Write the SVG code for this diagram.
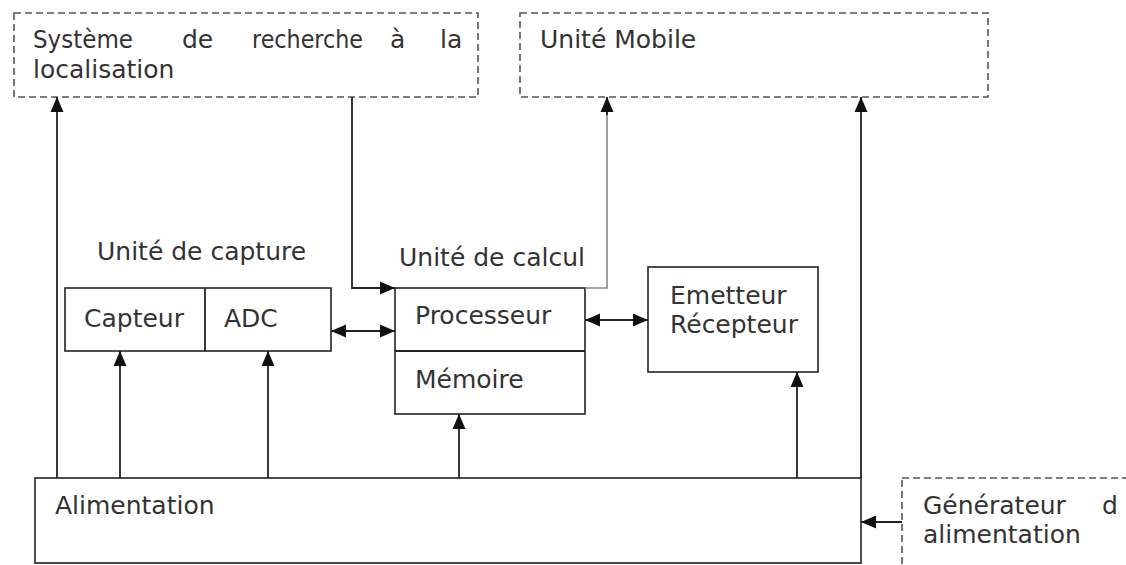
<svg xmlns="http://www.w3.org/2000/svg" width="1126" height="565" viewBox="0 0 1126 565">
  <style>
    text { font-family: "DejaVu Sans", Verdana, sans-serif; font-size: 25px; fill: #333; }
    .box { fill: #fff; stroke: #222; stroke-width: 1.6; }
    .dash { fill: #fff; stroke: #555; stroke-width: 1.6; stroke-dasharray: 7 4; }
    .wire { fill: none; stroke: #222; stroke-width: 1.8; }
    .soft { fill: none; stroke: #888; stroke-width: 1.6; }
  </style>
  <defs>
    <marker id="head" markerUnits="userSpaceOnUse" markerWidth="16" markerHeight="14" refX="15" refY="7" orient="auto-start-reverse">
      <path d="M0,0.5 L15,7 L0,13.5 z" fill="#111"/>
    </marker>
  </defs>

  <rect width="1126" height="565" fill="#fff"/>

  <!-- external systems (dashed) -->
  <g id="systeme-recherche">
    <rect class="dash" x="14" y="13" width="464" height="84"/>
    <text x="33" y="48" textLength="100" lengthAdjust="spacingAndGlyphs">Système</text>
    <text x="182" y="48">de</text>
    <text x="252" y="48" textLength="111" lengthAdjust="spacingAndGlyphs">recherche</text>
    <text x="390" y="48">à</text>
    <text x="440" y="48">la</text>
    <text x="33" y="78">localisation</text>
  </g>

  <g id="unite-mobile">
    <rect class="dash" x="520" y="13" width="468" height="84"/>
    <text x="540" y="48">Unité Mobile</text>
  </g>

  <g id="generateur">
    <rect class="dash" x="902" y="478" width="240" height="100"/>
    <text x="923" y="514">Générateur</text>
    <text x="1102" y="514">d</text>
    <text x="923" y="543">alimentation</text>
  </g>

  <!-- capture unit -->
  <g id="unite-capture">
    <text x="97" y="260">Unité de capture</text>
    <rect class="box" x="65" y="288" width="266" height="63"/>
    <line class="wire" x1="205" y1="288" x2="205" y2="351"/>
    <text x="84" y="327">Capteur</text>
    <text x="224" y="327">ADC</text>
  </g>

  <!-- compute unit -->
  <g id="unite-calcul">
    <text x="399" y="266">Unité de calcul</text>
    <rect class="box" x="395" y="288" width="190" height="126"/>
    <line class="wire" x1="395" y1="351" x2="585" y2="351"/>
    <text x="415" y="324">Processeur</text>
    <text x="415" y="388">Mémoire</text>
  </g>

  <g id="emetteur-recepteur">
    <rect class="box" x="648" y="267" width="170" height="105"/>
    <text x="670" y="304">Emetteur</text>
    <text x="670" y="333">Récepteur</text>
  </g>

  <g id="alimentation">
    <rect class="box" x="35" y="478" width="826" height="85"/>
    <text x="55" y="514">Alimentation</text>
  </g>

  <!-- connectors -->
  <g id="connectors">
    <!-- power supply feeds -->
    <line class="wire" x1="57" y1="478" x2="57" y2="97" marker-end="url(#head)"/>
    <line class="wire" x1="120" y1="478" x2="120" y2="351" marker-end="url(#head)"/>
    <line class="wire" x1="268" y1="478" x2="268" y2="351" marker-end="url(#head)"/>
    <line class="wire" x1="459" y1="478" x2="459" y2="414" marker-end="url(#head)"/>
    <line class="wire" x1="797" y1="478" x2="797" y2="372" marker-end="url(#head)"/>
    <line class="wire" x1="861" y1="478" x2="861" y2="97" marker-end="url(#head)"/>
    <line class="wire" x1="902" y1="522" x2="861" y2="522" marker-end="url(#head)"/>
    <!-- localisation system to processor -->
    <polyline class="wire" points="352,97 352,288 395,288" marker-end="url(#head)"/>
    <!-- processor to mobile unit -->
    <polyline class="soft" points="585,288 607,288 607,100"/>
    <line class="wire" x1="607" y1="115" x2="607" y2="97" marker-end="url(#head)" stroke="#888"/>
    <!-- data links -->
    <line class="wire" x1="331" y1="331" x2="395" y2="331" marker-start="url(#head)" marker-end="url(#head)"/>
    <line class="wire" x1="585" y1="320" x2="648" y2="320" marker-start="url(#head)" marker-end="url(#head)"/>
  </g>
</svg>
